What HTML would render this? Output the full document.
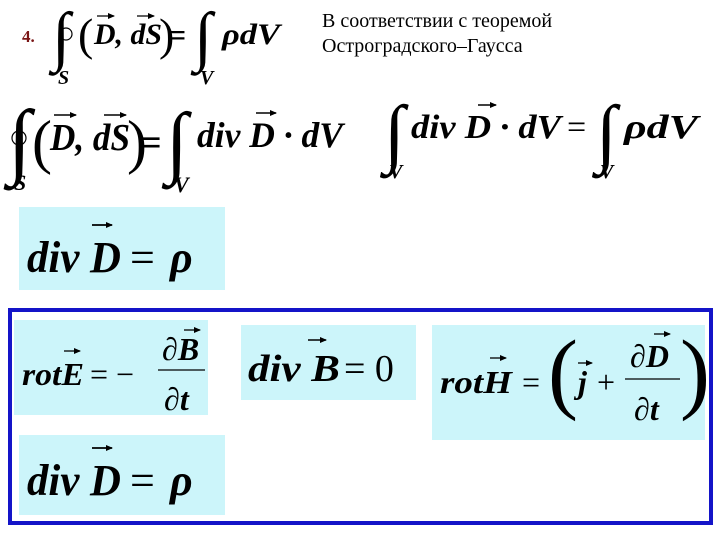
<!DOCTYPE html>
<html><head><meta charset="utf-8"><style>
html,body{margin:0;padding:0;background:#fff;}
svg{display:block;}
.m{font-family:"Liberation Serif",serif;font-weight:bold;font-style:italic;fill:#000;}
.n{font-family:"Liberation Serif",serif;fill:#000;}
.i{font-family:"Liberation Serif",serif;fill:#000;}
</style></head><body>
<svg width="720" height="540" viewBox="0 0 720 540" xmlns="http://www.w3.org/2000/svg">
<defs><marker id="a" markerUnits="userSpaceOnUse" markerWidth="7" markerHeight="6" refX="6" refY="3" orient="auto"><path d="M0,0 L7,3 L0,6z" fill="#000"/></marker></defs>
<!-- row1 -->
<text x="22" y="42" font-family="Liberation Serif" font-weight="bold" font-size="17" fill="#7a1515">4.</text>
<text class="i" x="52" y="58" font-size="66">∫</text>
<circle cx="66" cy="34" r="6" fill="none" stroke="#000" stroke-width="1.2"/>
<text class="n" x="78" y="50" font-size="46">(</text>
<text class="m" x="94" y="44" font-size="30" textLength="68" lengthAdjust="spacingAndGlyphs">D, dS</text>
<text class="n" x="159" y="50" font-size="46">)</text>
<text class="n" x="168" y="46" font-size="32" font-weight="bold">=</text>
<text class="i" x="194" y="58" font-size="66">∫</text>
<text class="m" x="222" y="44" font-size="30" textLength="58" lengthAdjust="spacingAndGlyphs">ρdV</text>
<text class="m" x="58" y="84" font-size="20">S</text>
<text class="m" x="200" y="84" font-size="20">V</text>
<path d="M97 16 H114" stroke="#000" stroke-width="1.2" marker-end="url(#a)"/>
<path d="M137 16 H154" stroke="#000" stroke-width="1.2" marker-end="url(#a)"/>
<text class="n" x="322" y="27" font-size="20">В соответствии с теоремой</text>
<text class="n" x="322" y="52" font-size="20">Остроградского–Гаусса</text>
<!-- row2 left -->
<text class="i" x="8" y="168" font-size="84">∫</text>
<circle cx="19" cy="138" r="7" fill="none" stroke="#000" stroke-width="1.2"/>
<text class="n" x="32" y="162" font-size="60">(</text>
<text class="m" x="50" y="150" font-size="38" textLength="80" lengthAdjust="spacingAndGlyphs">D, dS</text>
<text class="n" x="127" y="162" font-size="60">)</text>
<text class="n" x="140" y="155" font-size="38" font-weight="bold">=</text>
<text class="i" x="166" y="168" font-size="80">∫</text>
<text class="m" x="197" y="147" font-size="36" textLength="146" lengthAdjust="spacingAndGlyphs">div D · dV</text>
<text class="m" x="14" y="190" font-size="22">S</text>
<text class="m" x="174" y="192" font-size="22">V</text>
<path d="M54 115 H76" stroke="#000" stroke-width="1.5" marker-end="url(#a)"/>
<path d="M104 115 H126" stroke="#000" stroke-width="1.5" marker-end="url(#a)"/>
<path d="M256 113 H276" stroke="#000" stroke-width="1.5" marker-end="url(#a)"/>
<!-- row2 right -->
<text class="i" x="384" y="158" font-size="76">∫</text>
<text class="m" x="411" y="138" font-size="34" textLength="150" lengthAdjust="spacingAndGlyphs">div D · dV</text>
<text class="n" x="567" y="138" font-size="34">=</text>
<text class="i" x="596" y="158" font-size="76">∫</text>
<text class="m" x="624" y="138" font-size="34" textLength="74" lengthAdjust="spacingAndGlyphs">ρdV</text>
<text class="m" x="389" y="178" font-size="20">V</text>
<text class="m" x="600" y="178" font-size="20">V</text>
<path d="M478 105 H496" stroke="#000" stroke-width="1.5" marker-end="url(#a)"/>
<!-- box div D -->
<rect x="19" y="207" width="206" height="83" fill="#ccf5fa"/>
<text class="m" x="27" y="272" font-size="44" textLength="94" lengthAdjust="spacingAndGlyphs">div D</text>
<text class="n" x="130" y="272" font-size="44">=</text>
<text class="m" x="170" y="272" font-size="44">ρ</text>
<path d="M92 225 H112" stroke="#000" stroke-width="1.8" marker-end="url(#a)"/>
<!-- blue frame -->
<rect x="10" y="310" width="701" height="213" fill="none" stroke="#1414c8" stroke-width="4"/>
<rect x="14" y="320" width="194" height="95" fill="#ccf5fa"/>
<text class="m" x="22" y="385" font-size="32" textLength="62" lengthAdjust="spacingAndGlyphs">rotE</text>
<text class="n" x="90" y="385" font-size="32">= −</text>
<text class="m" x="162" y="360" font-size="32">∂B</text>
<line x1="158" y1="370" x2="205" y2="370" stroke="#000" stroke-width="1.2"/>
<text class="m" x="164" y="410" font-size="32">∂t</text>
<path d="M64 351 H80" stroke="#000" stroke-width="1.3" marker-end="url(#a)"/>
<path d="M184 330 H200" stroke="#000" stroke-width="1.3" marker-end="url(#a)"/>
<rect x="241" y="325" width="175" height="75" fill="#ccf5fa"/>
<text class="m" x="248" y="381" font-size="38" textLength="92" lengthAdjust="spacingAndGlyphs">div B</text>
<text class="n" x="344" y="381" font-size="38">= 0</text>
<path d="M308 340 H326" stroke="#000" stroke-width="1.5" marker-end="url(#a)"/>
<rect x="432" y="325" width="273" height="115" fill="#ccf5fa"/>
<text class="m" x="440" y="393" font-size="32" textLength="72" lengthAdjust="spacingAndGlyphs">rotH</text>
<text class="n" x="522" y="393" font-size="32">=</text>
<text class="n" x="548" y="402" font-size="90">(</text>
<text class="m" x="578" y="393" font-size="32">j</text>
<text class="n" x="597" y="393" font-size="32">+</text>
<text class="m" x="630" y="367" font-size="32">∂D</text>
<line x1="625" y1="379" x2="680" y2="379" stroke="#000" stroke-width="1.2"/>
<text class="m" x="634" y="420" font-size="32">∂t</text>
<text class="n" x="680" y="402" font-size="90">)</text>
<path d="M490 358 H506" stroke="#000" stroke-width="1.3" marker-end="url(#a)"/>
<path d="M578 363 H592" stroke="#000" stroke-width="1.3" marker-end="url(#a)"/>
<path d="M654 334 H670" stroke="#000" stroke-width="1.3" marker-end="url(#a)"/>
<rect x="19" y="435" width="206" height="80" fill="#ccf5fa"/>
<text class="m" x="27" y="495" font-size="44" textLength="94" lengthAdjust="spacingAndGlyphs">div D</text>
<text class="n" x="130" y="495" font-size="44">=</text>
<text class="m" x="170" y="495" font-size="44">ρ</text>
<path d="M92 448 H112" stroke="#000" stroke-width="1.8" marker-end="url(#a)"/>
</svg>
</body></html>
